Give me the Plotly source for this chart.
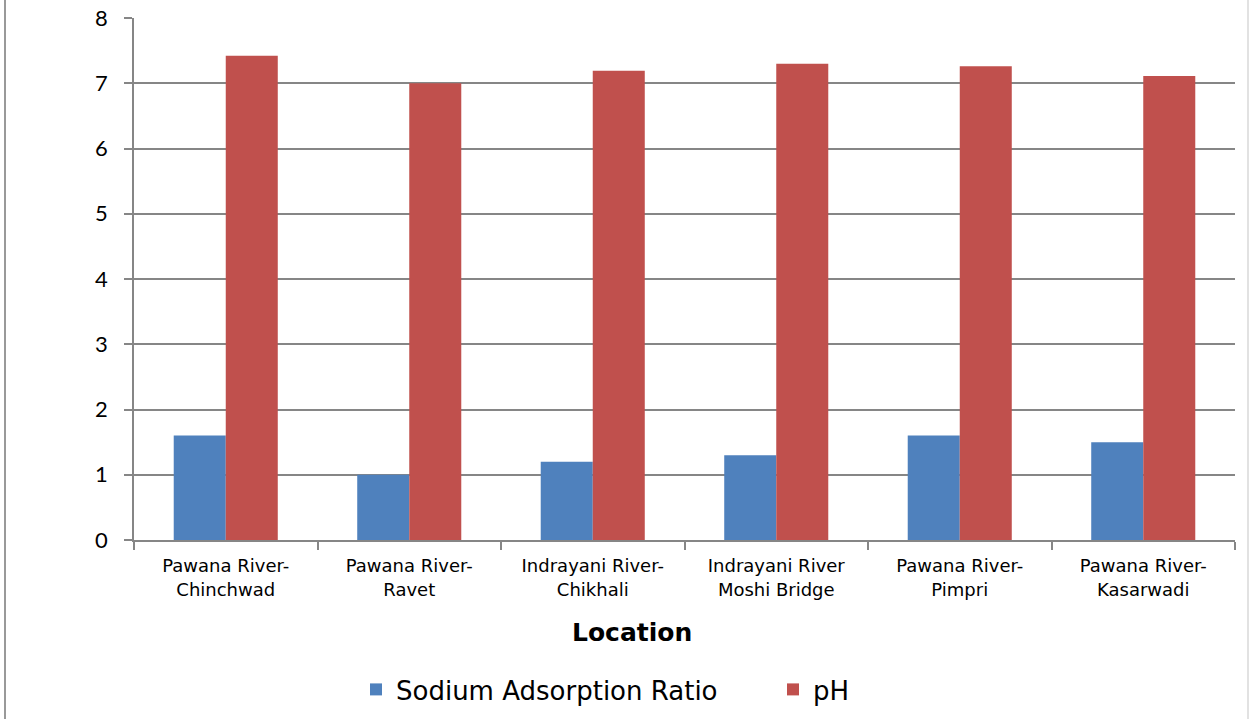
import plotly.graph_objects as go

# Sampling locations (two-line tick labels)
locations = [
    "Pawana River-<br>Chinchwad",
    "Pawana River-<br>Ravet",
    "Indrayani River-<br>Chikhali",
    "Indrayani River<br>Moshi Bridge",
    "Pawana River-<br>Pimpri",
    "Pawana River-<br>Kasarwadi",
]
sar_values = [1.6, 1.0, 1.2, 1.3, 1.6, 1.5]
ph_values = [7.42, 7.0, 7.19, 7.30, 7.26, 7.11]
y_ticks = [0, 1, 2, 3, 4, 5, 6, 7, 8]

W, H = 1249, 719
ML, MR, MT, MB = 134, 14, 18, 179
PW, PH = W - ML - MR, H - MT - MB


def px_x(p):
    return (p - ML) / PW


def px_y(p):
    return (H - MB - p) / PH


fig = go.Figure()
fig.add_trace(go.Bar(
    x=locations, y=sar_values, name="Sodium Adsorption Ratio",
    marker=dict(color="#4F81BD", line=dict(width=0)),
))
fig.add_trace(go.Bar(
    x=locations, y=ph_values, name="pH",
    marker=dict(color="#C0504D", line=dict(width=0)),
))

fig.update_layout(
    width=W, height=H,
    margin=dict(l=ML, r=MR, t=MT, b=MB, autoexpand=False),
    paper_bgcolor="white", plot_bgcolor="white",
    barmode="group", bargap=0.433, bargroupgap=0,
    font=dict(family="DejaVu Sans", color="#000000"),
    showlegend=True,
    legend=dict(
        orientation="h", x=px_x(356), y=px_y(666), xanchor="left", yanchor="top",
        font=dict(family="DejaVu Sans", size=26, color="#000000"),
        entrywidth=372, entrywidthmode="pixels",
        itemsizing="constant", bgcolor="rgba(0,0,0,0)",
    ),
    xaxis=dict(
        tickson="boundaries", ticks="outside", ticklen=8, tickwidth=1.5,
        tickcolor="#868686", showline=True, linecolor="#868686", linewidth=1.5,
        showgrid=False, tickfont=dict(family="DejaVu Sans", size=18, color="#000000"),
        ticklabelstandoff=9, fixedrange=True, automargin=False,
    ),
    yaxis=dict(
        range=[0, 8], tickvals=y_ticks, ticks="outside", ticklen=8, tickwidth=1.5,
        tickcolor="#868686", showline=True, linecolor="#868686", linewidth=1.5,
        showgrid=True, gridcolor="#868686", gridwidth=1.5, zeroline=False,
        tickfont=dict(family="Lato", size=22, color="#000000"),
        ticklabelstandoff=12, fixedrange=True, automargin=False,
    ),
    annotations=[dict(
        text="<b>Location</b>", xref="paper", yref="paper",
        x=px_x(632), y=px_y(632), xanchor="center", yanchor="middle",
        showarrow=False, font=dict(family="DejaVu Sans", size=25, color="#000000"),
    )],
    shapes=[
        dict(type="line", xref="paper", yref="paper", x0=px_x(5), x1=px_x(5),
             y0=px_y(0), y1=px_y(H), line=dict(color="#999999", width=2)),
        dict(type="line", xref="paper", yref="paper", x0=px_x(1248), x1=px_x(1248),
             y0=px_y(0), y1=px_y(H), line=dict(color="#d9d9d9", width=1.5)),
    ],
)

fig.write_html("out.html")
